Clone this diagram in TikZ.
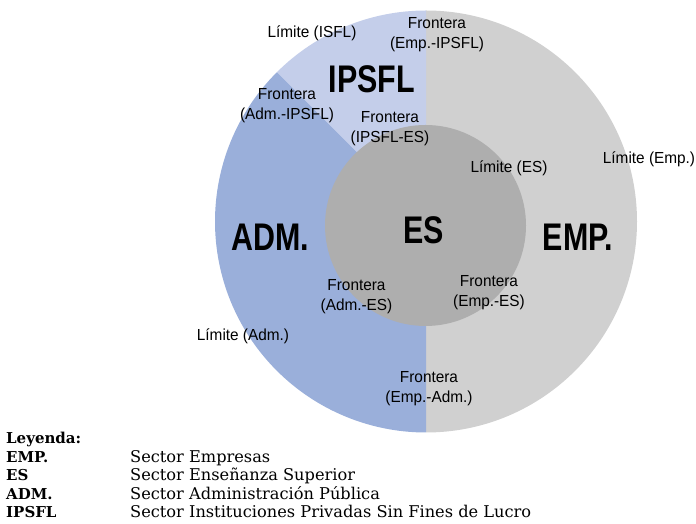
\documentclass[tikz,border=0pt]{standalone}
\usepackage{fontspec}
\setmainfont{Liberation Sans}
\newfontfamily\lblfont[FakeStretch=0.96]{Liberation Sans}
\newfontfamily\bigfont[FakeStretch=0.79]{Liberation Sans}
\newfontfamily\legfont{DejaVu Serif}
\definecolor{empc}{HTML}{D0D0D0}
\definecolor{esc}{HTML}{AEAEAE}
\definecolor{admc}{HTML}{9AAFDA}
\definecolor{ipsc}{HTML}{C4CEEA}
\begin{document}
\begin{tikzpicture}[x=1pt,y=1pt,
  lbl/.style={inner sep=0pt, align=center, font=\lblfont\fontsize{16}{20}\selectfont},
  big/.style={inner sep=0pt, font=\bigfont\bfseries\fontsize{38.5}{40}\selectfont},
  legk/.style={inner sep=0pt, anchor=base west, font=\legfont\bfseries\fontsize{15}{17}\selectfont},
  legv/.style={inner sep=0pt, anchor=base west, font=\legfont\fontsize{16.2}{18}\selectfont}]
\useasboundingbox (0,0) rectangle (696,524);
% sectors
\coordinate (o) at (426,302.5);
\fill[empc] (o) -- ++(-90:211) arc[start angle=-90, end angle=90, radius=211] -- cycle;
\fill[ipsc] (o) -- ++(90:211) arc[start angle=90, end angle=135, radius=211] -- cycle;
\fill[admc] (o) -- ++(135:211) arc[start angle=135, end angle=270, radius=211] -- cycle;
\fill[esc] (425.5,298.5) circle[radius=100.5];
% big labels
\node[big] (ipsfl) at (372,445) {IPSFL};
\node[big] (es) at (423.5,294) {ES};
\node[big] (adm) at (270,287) {ADM.};
\node[big] (emp) at (578,287) {EMP.};
% small labels
\node[lbl] (lisfl) at (312,491) {Límite (ISFL)};
\node[lbl] (fempips) at (437,489.5) {Frontera\\(Emp.-IPSFL)};
\node[lbl] (fadmips) at (287,418) {Frontera\\(Adm.-IPSFL)};
\node[lbl] (fipses) at (390,395) {Frontera\\(IPSFL-ES)};
\node[lbl] (les) at (509,356) {Límite (ES)};
\node[lbl] (lemp) at (649,365) {Límite (Emp.)};
\node[lbl] (fadmes) at (356.5,227) {Frontera\\(Adm.-ES)};
\node[lbl] (fempes) at (489,231) {Frontera\\(Emp.-ES)};
\node[lbl] (ladm) at (243,188) {Límite (Adm.)};
\node[lbl] (fempadm) at (429,135) {Frontera\\(Emp.-Adm.)};
% legend
\node[legk] (ley) at (6,80) {Leyenda:};
\node[legk] (k1) at (6,61.5) {EMP.};
\node[legk] (k2) at (6,43) {ES};
\node[legk] (k3) at (6,24.5) {ADM.};
\node[legk] (k4) at (6,6) {IPSFL};
\node[legv] (v1) at (130,61.5) {Sector Empresas};
\node[legv] (v2) at (130,43) {Sector Enseñanza Superior};
\node[legv] (v3) at (130,24.5) {Sector Administración Pública};
\node[legv] (v4) at (130,6) {Sector Instituciones Privadas Sin Fines de Lucro};
\end{tikzpicture}
\end{document}
